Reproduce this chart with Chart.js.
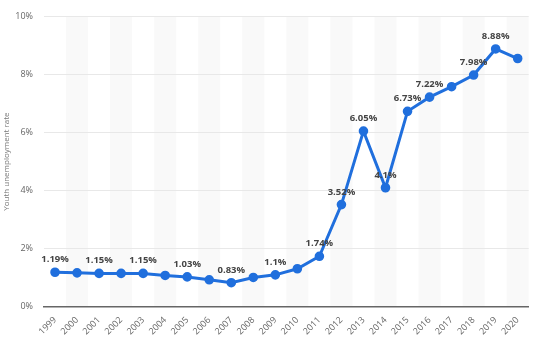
<!DOCTYPE html>
<html>
<head>
<meta charset="utf-8">
<script src="https://cdn.jsdelivr.net/npm/chart.js@4/dist/chart.umd.min.js"></script>
<style>
    html, body { margin: 0; padding: 0; background: #fff; }
    #wrap { width: 535px; height: 346px; position: relative; }
</style>
</head>
<body>
<div id="wrap"><canvas id="rateChart"></canvas></div>
<script>
// ===================================
// DATA
// ===================================

const years = ['1999', '2000', '2001', '2002', '2003', '2004', '2005', '2006', '2007', '2008', '2009',
    '2010', '2011', '2012', '2013', '2014', '2015', '2016', '2017', '2018', '2019', '2020'];

const rates = [1.19, 1.17, 1.15, 1.15, 1.15, 1.08, 1.03, 0.93, 0.83, 1.01, 1.1,
    1.31, 1.74, 3.52, 6.05, 4.1, 6.73, 7.22, 7.58, 7.98, 8.88, 8.55];

// which points get a value label
const labelled = [true, false, true, false, true, false, true, false, true, false, true,
    false, true, true, true, true, true, true, false, true, true, false];

const yTicks = [0, 2, 4, 6, 8, 10];

// ===================================
// PLUGINS
// ===================================

// light stripes behind every second year
const stripes = {
    id: 'stripes',
    beforeDraw(chart) {
        const { ctx, chartArea, scales } = chart;
        const x = scales.x;
        const step = x.width / years.length;
        ctx.save();
        ctx.fillStyle = '#f9f9f9';
        years.forEach((y, i) => {
            if (i % 2 === 1) {
                const cx = x.getPixelForValue(i);
                ctx.fillRect(cx - step / 2, chartArea.top, step, chartArea.bottom - chartArea.top);
            }
        });
        ctx.restore();
    }
};

// value labels above points
const valueLabels = {
    id: 'valueLabels',
    afterDatasetsDraw(chart) {
        const { ctx } = chart;
        const meta = chart.getDatasetMeta(0);
        ctx.save();
        ctx.font = 'bold 9.5px "Open Sans"';
        ctx.fillStyle = '#444';
        ctx.textAlign = 'center';
        ctx.textBaseline = 'bottom';
        meta.data.forEach((pt, i) => {
            if (!labelled[i]) return;
            ctx.fillText(rates[i] + '%', pt.x, pt.y - 8);
        });
        ctx.restore();
    }
};

// ===================================
// CHART
// ===================================

Chart.defaults.font.family = '"Open Sans", sans-serif';

new Chart(document.getElementById('rateChart'), {
    type: 'line',
    data: {
        labels: years,
        datasets: [{
            data: rates,
            borderColor: '#206fdd',
            backgroundColor: '#206fdd',
            borderWidth: 3,
            pointRadius: 3.3,
            pointHoverRadius: 3.3,
            tension: 0
        }]
    },
    options: {
        responsive: true,
        maintainAspectRatio: false,
        animation: false,
        layout: { padding: { top: 11, right: 3, left: 0, bottom: 1 } },
        plugins: {
            legend: { display: false },
            tooltip: { enabled: false }
        },
        scales: {
            x: {
                offset: true,
                grid: { display: false, drawTicks: false },
                border: { color: '#666', width: 1.5 },
                ticks: {
                    color: '#666',
                    font: { size: 9 },
                    maxRotation: 45,
                    minRotation: 45,
                    padding: 8
                }
            },
            y: {
                min: 0,
                max: 10,
                afterBuildTicks(axis) {
                    axis.ticks = yTicks.map(v => ({ value: v }));
                },
                afterFit(axis) {
                    axis.width = 44;
                },
                grid: { color: '#e8e8e8', drawTicks: false },
                border: { display: false },
                ticks: {
                    color: '#666',
                    font: { size: 9 },
                    padding: 11,
                    callback: v => v + '%'
                },
                title: {
                    display: true,
                    text: 'Youth unemployment rate',
                    color: '#777',
                    font: { size: 8 },
                    padding: { top: 2, bottom: 2 }
                }
            }
        }
    },
    plugins: [stripes, valueLabels]
});
</script>
</body>
</html>
